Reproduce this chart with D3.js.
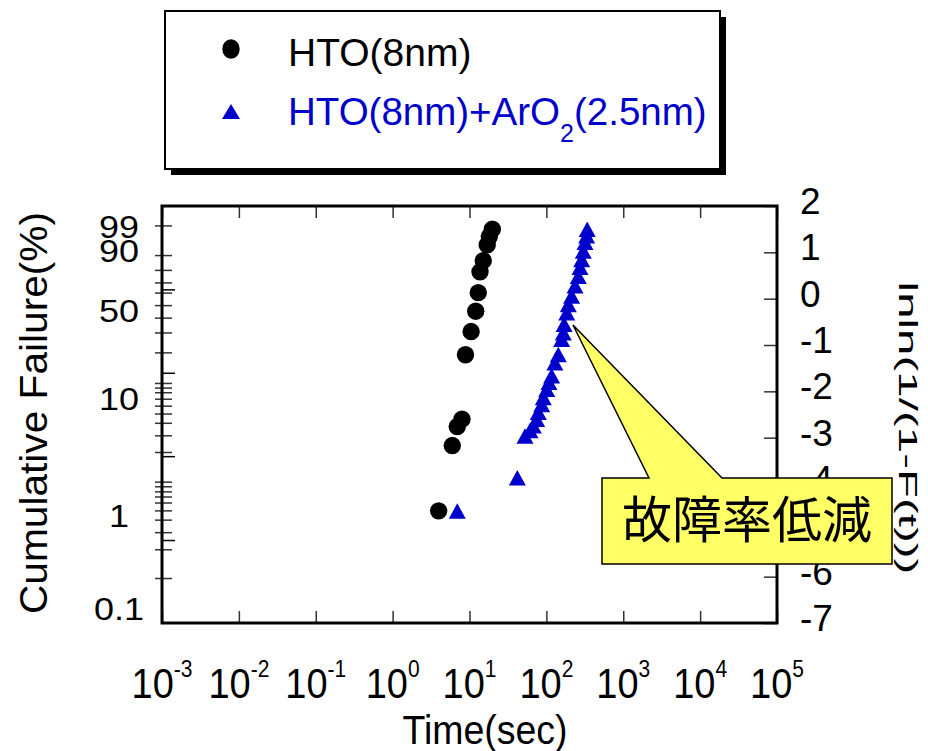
<!DOCTYPE html>
<meta charset="utf-8">
<style>
body { margin: 0; background: #fff; }
svg text { font-family: "Liberation Sans", Arial, sans-serif; fill: #000; }
</style>
<svg width="928" height="751"></svg>
<script src="https://cdn.jsdelivr.net/npm/d3@7/dist/d3.min.js"></script>
<script>

// HTO(8nm) : time (sec) and lnln(1/(1-F))
var htoTime = [3.97, 5.97, 6.93, 7.98, 8.87, 10.5, 12.05, 13.0, 13.7, 15.1, 17.0, 18.1, 19.8];
var htoLnln = [-4.58, -3.17, -2.76, -2.60, -1.21, -0.71, -0.27, 0.13, 0.58, 0.82, 1.16, 1.34, 1.50];

// HTO(8nm)+ArO2(2.5nm)
var aroTime = [6.93, 41.9, 52.7, 61.2, 67.6, 74.8, 78.5, 86.9, 91.2, 101, 108, 117, 129, 143,
               158, 166, 170, 184, 193, 213, 236, 260, 274, 288, 302, 318, 334, 340];
var aroLnln = [-4.60, -3.88, -2.98, -2.86, -2.76, -2.62, -2.47, -2.30, -2.15, -1.97, -1.82, -1.68, -1.40, -1.22,
               -0.89, -0.75, -0.57, -0.32, -0.14, 0.04, 0.26, 0.47, 0.66, 0.83, 1.01, 1.20, 1.34, 1.48];

// axes
var timeDecades = [-3, -2, -1, 0, 1, 2, 3, 4, 5];
var rightTicks = [-7, -6, -5, -4, -3, -2, -1, 0, 1, 2];
var leftLabels = ["99", "90", "50", "10", "1", "0.1"];
var leftLabelAt = [1.55, 1.03, -0.25, -2.16, -4.67, -6.69];
var leftMinor = [1.57, 0.93, 0.61, 0.34, 0.12, -0.15, -0.42, -0.74, -1.17,
                 -1.83, -1.93, -2.03, -2.17, -2.32, -2.49, -2.69, -2.96, -3.32,
                 -3.96, -4.06, -4.17, -4.28, -4.41, -4.58, -4.78, -5.05, -5.42, -6.04];
var leftMajor = [0.19, -1.61, -3.41, -5.22];

var svg = d3.select("svg");
var x = d3.scaleLog().domain([1e-3, 1e5]).range([162, 777]);
var y = d3.scaleLinear().domain([-7, 2]).range([623, 206]);

var blue = "#0000cc";

// ---- legend box with drop shadow
svg.append("rect").attr("x", 171).attr("y", 17).attr("width", 555).attr("height", 158).attr("fill", "#000");
svg.append("rect").attr("x", 165).attr("y", 11).attr("width", 555).attr("height", 158)
    .attr("fill", "#fff").attr("stroke", "#000").attr("stroke-width", 2);

svg.append("ellipse").attr("cx", 231).attr("cy", 49).attr("rx", 8.7).attr("ry", 9.8).attr("fill", "#000");
svg.append("path").attr("d", "M231,104 L240,119 L222,119 Z").attr("fill", blue);

svg.append("text").attr("x", 288).attr("y", 66).style("font-size", "39px").text("HTO(8nm)");
var lg2 = svg.append("text").attr("x", 288).attr("y", 125).style("font-size", "38.5px").style("fill", blue);
lg2.append("tspan").text("HTO(8nm)+ArO");
lg2.append("tspan").attr("dy", 17).style("font-size", "25px").text("2");
lg2.append("tspan").attr("dy", -17).text("(2.5nm)");

// ---- ticks
var tickCol = "#333";

// top and bottom (inside)
var xt = d3.axisTop(x).tickValues(timeDecades.map(function(d) { return Math.pow(10, d); }))
    .tickSize(-12).tickFormat("");
var xb = d3.axisBottom(x).tickValues(timeDecades.map(function(d) { return Math.pow(10, d); }))
    .tickSize(-12).tickFormat("");
svg.append("g").attr("transform", "translate(0,206)").call(xt);
svg.append("g").attr("transform", "translate(0,623)").call(xb);

// right (inside)
var yr = d3.axisRight(y).tickValues(rightTicks).tickSize(-13).tickFormat("");
svg.append("g").attr("transform", "translate(777,0)").call(yr);

svg.selectAll(".domain").remove();
svg.selectAll(".tick line").attr("stroke", tickCol).attr("stroke-width", 1.5);

// left (probability ticks)
svg.append("g").selectAll("line").data(leftMinor).enter().append("line")
    .attr("x1", 155).attr("x2", 172)
    .attr("y1", function(d) { return y(d); }).attr("y2", function(d) { return y(d); })
    .attr("stroke", tickCol).attr("stroke-width", 1.5);
svg.append("g").selectAll("line").data(leftMajor).enter().append("line")
    .attr("x1", 162).attr("x2", 175)
    .attr("y1", function(d) { return y(d); }).attr("y2", function(d) { return y(d); })
    .attr("stroke", "#000").attr("stroke-width", 1.5);

// ---- frame
svg.append("rect").attr("x", 162).attr("y", 206).attr("width", 615).attr("height", 417)
    .attr("fill", "none").attr("stroke", "#000").attr("stroke-width", 3);

// ---- tick labels
svg.append("g").selectAll("text").data(leftLabels).enter().append("text")
    .attr("transform", function(d, i) { return "translate(119," + (y(leftLabelAt[i]) + 11.5) + ") scale(1,0.88)"; })
    .attr("text-anchor", "middle").style("font-size", "36px")
    .text(function(d) { return d; });

svg.append("g").selectAll("text").data(rightTicks).enter().append("text")
    .attr("x", 800).attr("y", function(d) { return y(d) + 8; })
    .style("font-size", "37px")
    .text(function(d) { return d; });

var xl = svg.append("g").selectAll("g").data(timeDecades).enter().append("g")
    .attr("transform", function(d) { return "translate(" + x(Math.pow(10, d)) + ",698) scale(1,1.1)"; });
var xlt = xl.append("text").attr("text-anchor", "middle").style("font-size", "38px");
xlt.append("tspan").text("10");
xlt.append("tspan").attr("dy", -19).style("font-size", "21px").text(function(d) { return d; });

// ---- axis titles
svg.append("text").attr("transform", "translate(485,744) scale(1,1.1)")
    .attr("text-anchor", "middle").style("font-size", "37.5px").text("Time(sec)");

svg.append("text").attr("transform", "translate(47,413) rotate(-90) scale(1.07,1)")
    .attr("text-anchor", "middle").style("font-size", "38px").text("Cumulative Failure(%)");

svg.append("text").attr("transform", "translate(899,428) rotate(90) scale(1.9,1)")
    .attr("text-anchor", "middle").style("font-size", "25px").style("font-weight", "300")
    .text("lnln(1/(1-F(t)))");

// ---- data
svg.append("g").selectAll("circle").data(htoTime).enter().append("circle")
    .attr("cx", function(d) { return x(d); })
    .attr("cy", function(d, i) { return y(htoLnln[i]); })
    .attr("r", 8.7).attr("fill", "#000");

svg.append("g").selectAll("path").data(aroTime).enter().append("path")
    .attr("transform", function(d, i) { return "translate(" + x(d) + "," + y(aroLnln[i]) + ")"; })
    .attr("d", "M0,-8.5 L8.5,7 L-8.5,7 Z")
    .attr("fill", blue);

// ---- callout
svg.append("path")
    .attr("d", "M602,478 L649,478 L573,325 L722,478 L892,478 L892,564 L602,564 Z")
    .attr("fill", "#ffff66").attr("stroke", "#000").attr("stroke-width", 1.5);
svg.append("text").attr("x", 747).attr("y", 538).attr("text-anchor", "middle")
    .style("font-family", "'Noto Sans CJK JP', sans-serif").style("font-size", "50px")
    .text("故障率低減");

</script>
